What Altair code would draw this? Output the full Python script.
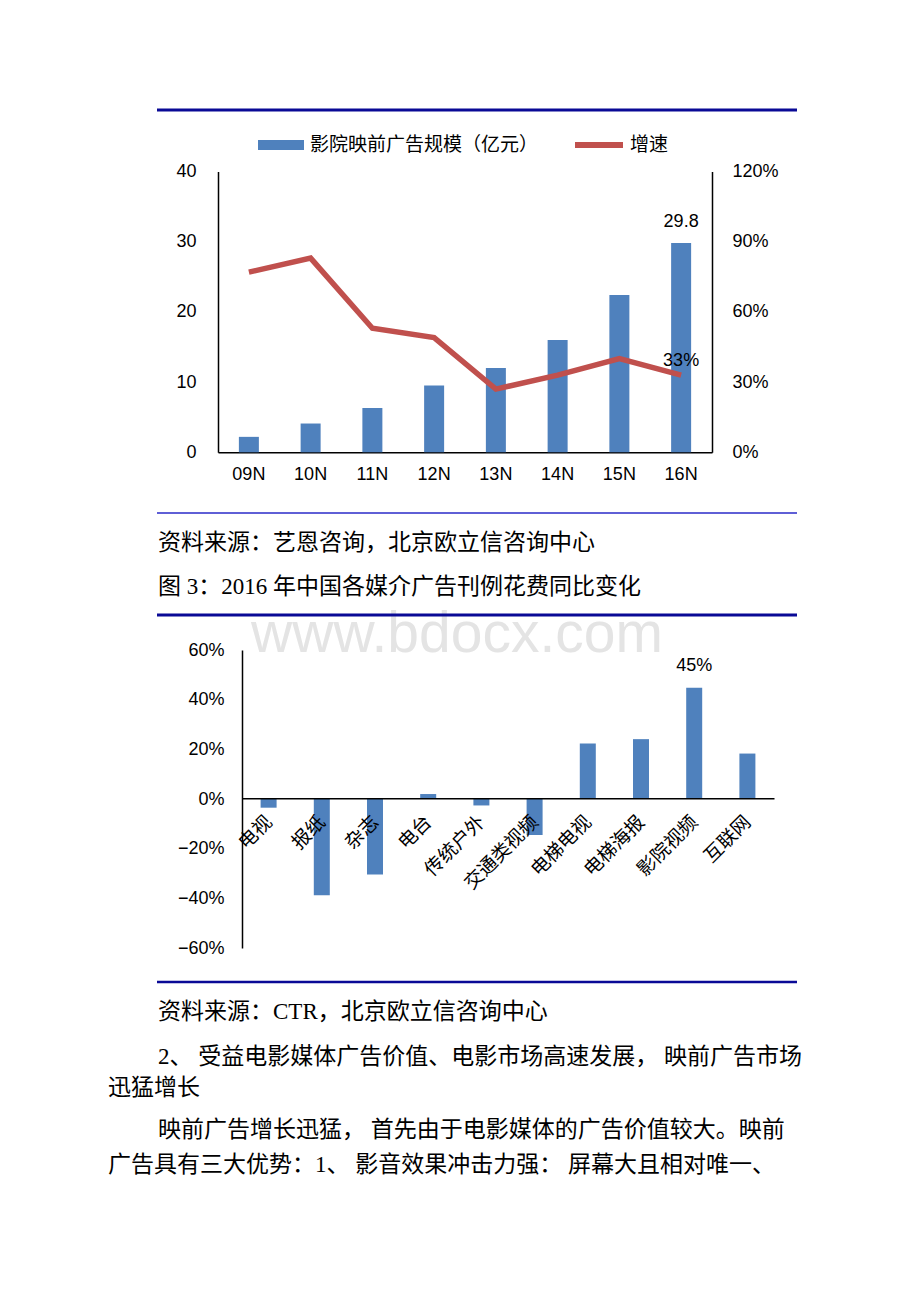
import altair as alt
import pandas as pd

# ---------------- data ----------------
years = ["09N", "10N", "11N", "12N", "13N", "14N", "15N", "16N"]
ad_scale = [2.2, 4.1, 6.3, 9.5, 12.0, 16.0, 22.4, 29.8]      # 亿元
growth_pct = [77, 83, 53, 49, 27, 33, 40, 33]                # %

media = ["电视", "报纸", "杂志", "电台", "传统户外", "交通类视频",
         "电梯电视", "电梯海报", "影院视频", "互联网"]
yoy_pct = [-3.5, -38.8, -30.4, 2.0, -2.6, -14.5, 22.3, 24.1, 44.8, 18.3]

bar_series = "影院映前广告规模（亿元）"
line_series = "增速"

texts_top = ["资料来源：艺恩咨询，北京欧立信咨询中心",
             "图 3：2016 年中国各媒介广告刊例花费同比变化"]
texts_bottom = ["资料来源：CTR，北京欧立信咨询中心",
                "2、 受益电影媒体广告价值、电影市场高速发展， 映前广告市场",
                "迅猛增长",
                "映前广告增长迅猛， 首先由于电影媒体的广告价值较大。映前",
                "广告具有三大优势：1、 影音效果冲击力强： 屏幕大且相对唯一、"]
watermark = "www.bdocx.com"

# ---------------- styles ----------------
BLUE = "#4F81BD"
RED = "#C0504D"
RULE_DARK = "#0A0A96"
RULE_LIGHT = "#2A2AC8"
NUM_FONT = "Liberation Sans Narrow, Liberation Sans, Arial"
CJK = "Noto Sans CJK SC"
DOC_FONT = "Liberation Serif, Noto Sans CJK SC"

W = 904
H1 = 592
H2 = 694

one = pd.DataFrame({"k": [0]})


def rule(x1, x2, y, color, width):
    return alt.Chart(one).mark_rule(color=color, strokeWidth=width).encode(
        x=alt.value(x1), x2=alt.value(x2), y=alt.value(y))


def label(txt, x, y, size=23, font=DOC_FONT, color="black", align="left", baseline="middle"):
    return alt.Chart(one).mark_text(text=txt, align=align, baseline=baseline, font=font,
                                    fontSize=size, color=color).encode(
        x=alt.value(x), y=alt.value(y))


def ax(**kw):
    base = dict(grid=False, ticks=False, domainColor="black", domainWidth=1.5,
                labelColor="black", labelFontSize=18, title=None)
    base.update(kw)
    return alt.Axis(**base)


# ---------------- chart 1 ----------------
df1 = pd.DataFrame({"year": years, "amount": ad_scale, "growth": growth_pct})

Y0_1, YTOP_1 = 444.3, 163.5
XL_1, XR_1 = 210, 704

x1 = alt.X("year:N", sort=years, title=None,
           scale=alt.Scale(range=[XL_1, XR_1], paddingInner=0, paddingOuter=0),
           axis=ax(orient="bottom", offset=-(H1 - Y0_1), labelAngle=0,
                   labelFont=NUM_FONT, labelPadding=13))
yA = alt.Y("amount:Q", title=None,
           scale=alt.Scale(domain=[0, 40], range=[Y0_1, YTOP_1], nice=False),
           axis=ax(orient="left", offset=-XL_1, values=[0, 10, 20, 30, 40],
                   labelFont=NUM_FONT, labelPadding=22))
yB = alt.Y("g:Q", title=None,
           scale=alt.Scale(domain=[0, 1.2], range=[Y0_1, YTOP_1], nice=False),
           axis=ax(orient="right", offset=-(W - XR_1), values=[0, 0.3, 0.6, 0.9, 1.2],
                   format=".0%", labelFont=NUM_FONT, labelPadding=20))

amt_base = alt.Chart(df1).transform_calculate(s=f"'{bar_series}'")
bars1 = amt_base.mark_bar(size=20).encode(
    x=x1, y=yA,
    fill=alt.Fill("s:N", scale=alt.Scale(domain=[bar_series], range=[BLUE]),
                  legend=alt.Legend(title=None, orient="none", legendX=250, legendY=114,
                                    symbolType="M-1,-0.22H1V0.22H-1Z", symbolSize=2116,
                                    symbolStrokeWidth=0, labelFont=CJK, labelFontSize=19,
                                    labelLimit=0, labelColor="black", labelOffset=6,
                                    padding=0)))
lab298 = amt_base.transform_filter(alt.datum.year == "16N").mark_text(
    baseline="alphabetic", dy=-16, font=NUM_FONT, fontSize=18, color="black").encode(
    x=x1, y=yA, text=alt.Text("amount:Q", format=".1f"))

pct_base = alt.Chart(df1).transform_calculate(g="datum.growth / 100", s=f"'{line_series}'")
line1 = pct_base.mark_line(strokeWidth=5.5).encode(
    x=x1, y=yB,
    stroke=alt.Stroke("s:N", scale=alt.Scale(domain=[line_series], range=[RED]),
                      legend=alt.Legend(title=None, orient="none", legendX=564, legendY=110,
                                        symbolType="stroke", symbolSize=2304,
                                        symbolStrokeWidth=6, labelFont=CJK, labelFontSize=19,
                                        labelLimit=0, labelColor="black", labelOffset=4,
                                        padding=0)))
lab33 = pct_base.transform_filter(alt.datum.year == "16N").mark_text(
    baseline="alphabetic", dy=-9, font=NUM_FONT, fontSize=18, color="black").encode(
    x=x1, y=yB, text=alt.Text("g:Q", format=".0%"))

panel1 = alt.layer(
    rule(149, 789, 102, RULE_DARK, 3),
    alt.layer(bars1, lab298),
    alt.layer(line1, lab33),
    rule(149, 789, 505, RULE_LIGHT, 1.5),
    label(texts_top[0], 150, 535),
    label(texts_top[1], 150, 579),
).resolve_scale(y="independent").properties(width=W, height=H1)

# ---------------- chart 2 ----------------
df2 = pd.DataFrame({"media": media, "yoy": yoy_pct})
Y0_2 = 198.3
XL_2, XR_2 = 234, 766

x2 = alt.X("media:N", sort=media, title=None,
           scale=alt.Scale(range=[XL_2, XR_2], paddingInner=0, paddingOuter=0),
           axis=ax(orient="bottom", offset=-(H2 - Y0_2), labelAngle=-45, labelFont=CJK,
                   labelFontSize=19, labelPadding=14, labelOffset=-6, zindex=1))
y2 = alt.Y("v:Q", title=None,
           scale=alt.Scale(domain=[-0.6, 0.6], range=[348, 50], nice=False),
           axis=ax(orient="left", offset=-XL_2,
                   values=[-0.6, -0.4, -0.2, 0, 0.2, 0.4, 0.6], format=".0%",
                   labelFont=NUM_FONT, labelPadding=18))

base2 = alt.Chart(df2).transform_calculate(v="datum.yoy / 100")
bars2 = base2.mark_bar(size=16, color=BLUE).encode(x=x2, y=y2)
lab45 = base2.transform_filter(alt.datum.media == "影院视频").mark_text(
    baseline="alphabetic", dy=-17, font=NUM_FONT, fontSize=18, color="black").encode(
    x=x2, y=y2, text=alt.Text("v:Q", format=".0%"))

panel2 = alt.layer(
    label(watermark, 449, 52, size=57, font="Liberation Sans, Arial", color="#E4E4E4",
          align="center", baseline="alphabetic"),
    rule(149, 789, 15, RULE_DARK, 3),
    bars2, lab45,
    rule(149, 789, 382, RULE_DARK, 2.5),
    label(texts_bottom[0], 150, 412),
    label(texts_bottom[1], 150, 457),
    label(texts_bottom[2], 100, 488),
    label(texts_bottom[3], 150, 530),
    label(texts_bottom[4], 100, 565),
).properties(width=W, height=H2)

chart = alt.vconcat(panel1, panel2, spacing=0, bounds="flush").properties(
    padding=0).configure_view(stroke=None)

chart.save("out.html", embed_options={"renderer": "svg", "actions": False})
